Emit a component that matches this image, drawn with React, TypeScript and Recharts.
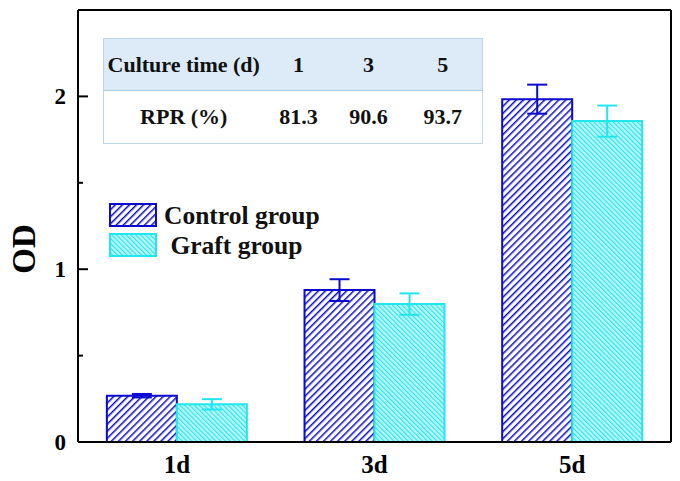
import React from 'react';
import { BarChart, Bar, XAxis, YAxis, ErrorBar } from 'recharts';

const categories = ['1d', '3d', '5d'];
const controlValues = [0.268, 0.879, 1.984];
const controlErrors = [0.01, 0.063, 0.084];
const graftValues = [0.218, 0.798, 1.857];
const graftErrors = [0.03, 0.062, 0.09];
const yTicks = [0, 0.5, 1, 1.5, 2];
const yMajorLabels = [0, 1, 2];

const tableHeader = 'Culture time (d)';
const tableRowLabel = 'RPR (%)';
const cultureTimes = ['1', '3', '5'];
const rprValues = ['81.3', '90.6', '93.7'];

const seriesNames = ['Control group', ' Graft group'];

const CONTROL = '#0A0AD0';
const GRAFT = '#22E6EE';
const FONT = "'Liberation Serif', 'Times New Roman', serif";

const data = categories.map((c, i) => ({
  day: c,
  control: controlValues[i],
  controlErr: controlErrors[i],
  graft: graftValues[i],
  graftErr: graftErrors[i],
}));

const Patterns = ({ prefix }: { prefix: string }) => (
  <defs>
    <pattern id={`${prefix}-control`} patternUnits="userSpaceOnUse" width="5" height="5" patternTransform="rotate(45)">
      <rect width="5" height="5" fill="#ffffff" />
      <line x1="0" y1="0" x2="0" y2="5" stroke={CONTROL} strokeWidth="3" />
    </pattern>
    <pattern id={`${prefix}-graft`} patternUnits="userSpaceOnUse" width="3.4" height="3.4" patternTransform="rotate(-45)">
      <rect width="3.4" height="3.4" fill="#B8F6F8" />
      <line x1="0" y1="0" x2="0" y2="3.4" stroke={GRAFT} strokeWidth="2.2" />
    </pattern>
  </defs>
);

const YTick = (props: any) => {
  const { x, y, payload } = props;
  const v = payload.value;
  const major = yMajorLabels.includes(v);
  return (
    <g>
      <line x1={x} y1={y} x2={x + (major ? 10 : 5)} y2={y} stroke="#000" strokeWidth={2} />
      {major && (
        <text x={x - 12} y={y} textAnchor="end" dominantBaseline="central" fontFamily={FONT} fontWeight="bold" fontSize={23} fill="#000">
          {v}
        </text>
      )}
    </g>
  );
};

const ODLabel = (props: any) => {
  const vb = props.viewBox;
  const cx = vb.x + 24;
  const cy = vb.y + vb.height / 2 + 23;
  return (
    <text x={cx} y={cy} transform={`rotate(-90, ${cx}, ${cy})`} textAnchor="middle" dominantBaseline="central" fontFamily={FONT} fontWeight="bold" fontSize={33} fill="#000">
      OD
    </text>
  );
};

const cellStyle: React.CSSProperties = {
  fontFamily: FONT,
  fontWeight: 'bold',
  fontSize: 22,
  textAlign: 'center',
  padding: 0,
  color: '#111',
};

export default function App() {
  return (
    <div style={{ position: 'absolute', left: 0, top: 0, width: 680, height: 481, background: '#fff' }}>
      <BarChart
        width={680}
        height={481}
        data={data}
        margin={{ top: 0, right: 0, left: 0, bottom: 0 }}
        barCategoryGap="14.6%"
        barGap={0}
      >
        <Patterns prefix="chart" />
        <XAxis
          dataKey="day"
          height={39}
          tickLine={false}
          tickSize={0}
          tickMargin={13}
          axisLine={{ stroke: '#000', strokeWidth: 2 }}
          tick={{ fontFamily: FONT, fontWeight: 'bold', fontSize: 25, fill: '#000' }}
        />
        <XAxis
          xAxisId="top"
          dataKey="day"
          orientation="top"
          height={10}
          tick={false}
          tickLine={false}
          axisLine={{ stroke: '#000', strokeWidth: 2 }}
        />
        <YAxis
          width={78}
          domain={[0, 2.5]}
          ticks={yTicks}
          interval={0}
          tickLine={false}
          tickSize={0}
          tickMargin={0}
          axisLine={{ stroke: '#000', strokeWidth: 2 }}
          tick={<YTick />}
          label={{ content: <ODLabel /> }}
        />
        <YAxis
          yAxisId="right"
          orientation="right"
          width={9}
          domain={[0, 2.5]}
          tick={false}
          tickLine={false}
          axisLine={{ stroke: '#000', strokeWidth: 2 }}
        />
        <Bar dataKey="control" fill="url(#chart-control)" stroke={CONTROL} strokeWidth={2} isAnimationActive={false}>
          <ErrorBar dataKey="controlErr" width={10} stroke={CONTROL} strokeWidth={2} />
        </Bar>
        <Bar dataKey="graft" fill="url(#chart-graft)" stroke={GRAFT} strokeWidth={2} isAnimationActive={false}>
          <ErrorBar dataKey="graftErr" width={10} stroke={GRAFT} strokeWidth={2} />
        </Bar>
      </BarChart>

      {/* inset table */}
      <table
        style={{
          position: 'absolute',
          left: 103,
          top: 38,
          width: 379,
          height: 105,
          borderCollapse: 'collapse',
          border: '1px solid #BCD8EE',
          tableLayout: 'fixed',
        }}
      >
        <colgroup>
          <col style={{ width: 160 }} />
          <col style={{ width: 70 }} />
          <col style={{ width: 70 }} />
          <col style={{ width: 79 }} />
        </colgroup>
        <tbody>
          <tr style={{ height: 52, background: '#DCEBF7', borderBottom: '1px solid #A9CCE9' }}>
            <td style={cellStyle}>{tableHeader}</td>
            {cultureTimes.map((t) => (
              <td key={t} style={cellStyle}>{t}</td>
            ))}
          </tr>
          <tr style={{ height: 53, background: '#fff' }}>
            <td style={cellStyle}>{tableRowLabel}</td>
            {rprValues.map((v) => (
              <td key={v} style={cellStyle}>{v}</td>
            ))}
          </tr>
        </tbody>
      </table>

      {/* legend */}
      <div style={{ position: 'absolute', left: 109, top: 201 }}>
        {seriesNames.map((name, i) => (
          <div key={name} style={{ display: 'flex', alignItems: 'center', height: 29, marginBottom: 1 }}>
            <svg width={49} height={25} style={{ display: 'block' }}>
              <Patterns prefix={`leg${i}`} />
              <rect x={1} y={1} width={46} height={22} fill={`url(#leg${i}-${i === 0 ? 'control' : 'graft'})`} stroke={i === 0 ? CONTROL : GRAFT} strokeWidth={2} />
            </svg>
            <span style={{ fontFamily: FONT, fontWeight: 'bold', fontSize: 25.5, color: '#111', marginLeft: 6, whiteSpace: 'pre', lineHeight: '25px' }}>
              {name}
            </span>
          </div>
        ))}
      </div>
    </div>
  );
}
